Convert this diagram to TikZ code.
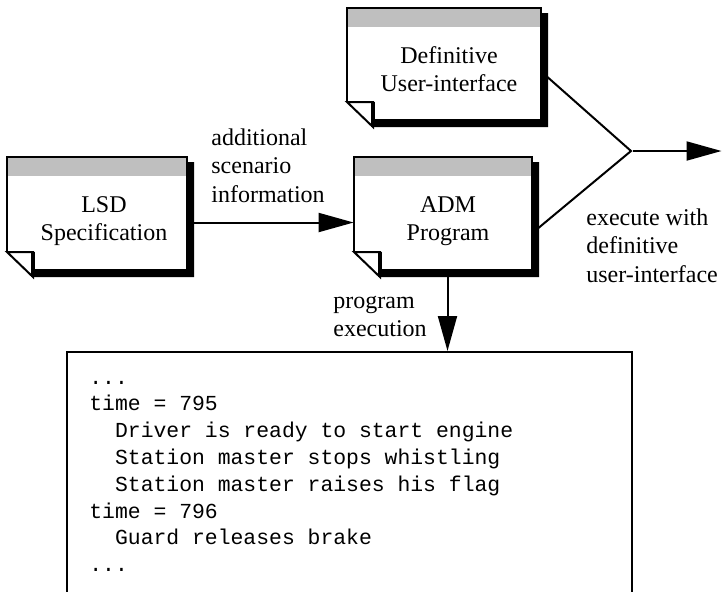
\documentclass[tikz,border=0pt]{standalone}
\usepackage{fontspec}
\setmainfont{Liberation Serif}
\setmonofont{Liberation Mono}
\usetikzlibrary{arrows.meta}
\tikzset{
  conn/.style={line width=1pt},
  arr/.style={line width=1pt,-{Triangle[length=17.5pt,width=9.5pt]}},
  lbl/.style={anchor=base west,inner sep=0pt,font=\fontsize{12}{14.25}\selectfont},
  boxtxt/.style={anchor=base,inner sep=0pt,font=\fontsize{12}{14}\selectfont},
  logtext/.style={anchor=base west,inner sep=0pt,font=\ttfamily\fontsize{10.7}{13.4}\selectfont},
}
\newcommand{\docpage}[5]{%
  \fill[black] (#4,#3+5) -- (#4+7,#3+5) -- (#4+7,#5+7) -- (#2+26,#5+7) -- (#2+26,#5) -- (#4,#5) -- cycle;
  \fill[white] (#2,#3) -- (#4,#3) -- (#4,#5) -- (#2+26,#5) -- (#2+26,#5-18) -- (#2,#5-18) -- cycle;
  \fill[gray!50] (#2,#3) rectangle (#4,#3+19);
  \draw[line width=1pt] (#2,#5-18) -- (#2,#3) -- (#4,#3) -- (#4,#5) -- (#2+26,#5);
  \filldraw[fill=white,line width=1pt] (#2,#5-18) -- (#2+26,#5-18) -- (#2+26,#5+7) -- cycle;
  \draw[line width=1.75pt] (#2+26,#5-18) -- (#2+26,#5+7);
  \node[inner sep=0pt,minimum width={(#4-#2)*0.5pt},minimum height={(#5-#3)*0.5pt}] (#1) at ({(#2+#4)/2},{(#3+#5)/2}) {};
}
\begin{document}
\begin{tikzpicture}[x=0.5pt,y=-0.5pt]
\path[use as bounding box,clip] (0,0) rectangle (722,591);
\fill[white] (0,0) rectangle (722,591);
\docpage{lsd}{7}{157}{187}{270}
\docpage{adm}{354}{157}{532}{270}
\docpage{def}{347}{8}{541}{120}
\node[boxtxt] (lsdtxt) at (104,212) {\begin{tabular}[t]{@{}c@{}}LSD\\Specification\end{tabular}};
\node[boxtxt] (admtxt) at (448,212) {\begin{tabular}[t]{@{}c@{}}ADM\\Program\end{tabular}};
\node[boxtxt] (deftxt) at (449,63) {\begin{tabular}[t]{@{}c@{}}Definitive\\User-interface\end{tabular}};
% log box
\node[draw,line width=1pt,inner sep=0pt,anchor=north west,minimum width={565*0.5pt},minimum height={300*0.5pt}] (log) at (66,351) {};
\node[logtext] (logtxt) at (89,384) {\begin{tabular}[t]{@{}l@{}}...\\time = 795\\~~Driver is ready to start engine\\~~Station master stops whistling\\~~Station master raises his flag\\time = 796\\~~Guard releases brake\\...\end{tabular}};
% connectors
\draw[arr] ([xshift=3.5pt,yshift=-4.5pt]lsd.east) -- ([yshift=-4.5pt]adm.west);
\coordinate (j) at (631,151);
\draw[conn] ([xshift=3pt,yshift=-6.5pt]def.east) -- (j) -- ([xshift=3pt,yshift=-7.25pt]adm.east);
\coordinate (out) at (721.5,151);
\draw[arr] ([xshift=1pt]j) -- (out);
\coordinate (admout) at ([xshift=2.25pt,yshift=-3.5pt]adm.south);
\draw[arr] (admout) -- (admout |- log.north);
% labels
\node[lbl] (addl) at (211,145) {\begin{tabular}[t]{@{}l@{}}additional\\scenario\\information\end{tabular}};
\node[lbl] (exec) at (586,225) {\begin{tabular}[t]{@{}l@{}}execute with\\definitive\\user-interface\end{tabular}};
\node[lbl] (prog) at (333,308) {\begin{tabular}[t]{@{}l@{}}program\\execution\end{tabular}};
\end{tikzpicture}
\end{document}
